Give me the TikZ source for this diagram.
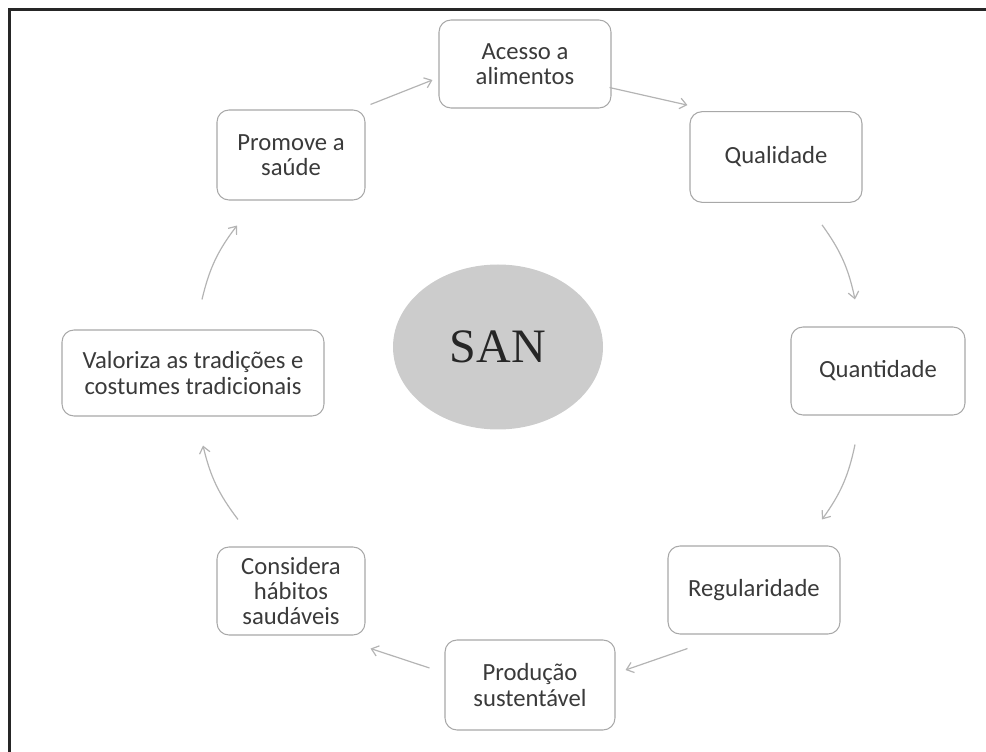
\documentclass[tikz,border=0pt]{standalone}
\usepackage{fontspec}
\setmainfont{Carlito}
\newfontfamily\sanfont{Liberation Serif}
\usepackage{tikz}
\usetikzlibrary{positioning,arrows.meta,shapes.geometric,calc}

\definecolor{boxline}{HTML}{A8A8A8}
\definecolor{arrowgray}{HTML}{B4B4B4}
\definecolor{sangray}{HTML}{CCCCCC}
\definecolor{txtgray}{HTML}{3A3A3A}

\tikzset{
  item/.style={draw=boxline, line width=0.8pt, rounded corners=9pt, align=center,
    text=txtgray, minimum width=129pt, minimum height=66pt, inner sep=2pt,
    font=\fontsize{18.5}{19}\selectfont},
  small item/.style={item, minimum width=111pt},
  link/.style={draw=arrowgray, line width=0.9pt, -{Straight Barb[length=5pt,width=8pt]}},
}

\begin{document}
\begin{tikzpicture}[x=0.75pt,y=-0.75pt]
\useasboundingbox (0,0) rectangle (986,752);
\draw[line width=1.9pt, black!85] (9.5,752) -- (9.5,9.5) -- (986,9.5);

\node[item] (acc) at (525,64) {Acesso a\\alimentos};
\node[item, minimum height=68pt] (qual) at (776,157) {Qualidade};
\node[item, minimum width=130.5pt] (quan) at (878,371) {Quantidade};
\node[item] (reg) at (754,590) {Regularidade};
\node[item, minimum width=127.5pt, minimum height=67.5pt] (prod) at (530,685) {Produção\\sustentável};
\node[small item] (cons) at (291,591) {Considera\\hábitos\\saudáveis};
\node[item, minimum width=196.5pt, minimum height=64.5pt] (val) at (193,373) {Valoriza as tradições e\\costumes tradicionais};
\node[small item, minimum height=67.5pt] (prom) at (291,155) {Promove a\\saúde};

\node[ellipse, fill=sangray, minimum width=157.5pt, minimum height=123.75pt,
  text=black!85, font=\sanfont\fontsize{36}{40}\selectfont] (san) at (498,347) {SAN};

\draw[link] ($(prom.north east)+(5,-5)$) to ($(acc.west)+(-6,16)$);
\draw[link] ($(acc.south east)+(-2,-21)$) to ($(qual.north west)+(-2,-6)$);
\draw[link] ($(qual.south)+(46,22)$) to[bend left=12] ($(quan.north)+(-23,-27)$);
\draw[link] ($(quan.south)+(-23,29)$) to[bend left=12] ($(reg.north)+(68,-26)$);
\draw[link] ($(reg.south west)+(20,14)$) to ($(prod.east)+(10,-15)$);
\draw[link] ($(prod.west)+(-15,-17)$) to ($(cons.south east)+(5,13)$);
\draw[link] ($(cons.north)+(-53,-27)$) to[bend left=12] ($(val.south)+(10,29)$);
\draw[link] ($(val.north)+(9,-30)$) to[bend left=12] ($(prom.south)+(-54,25)$);
\end{tikzpicture}
\end{document}
